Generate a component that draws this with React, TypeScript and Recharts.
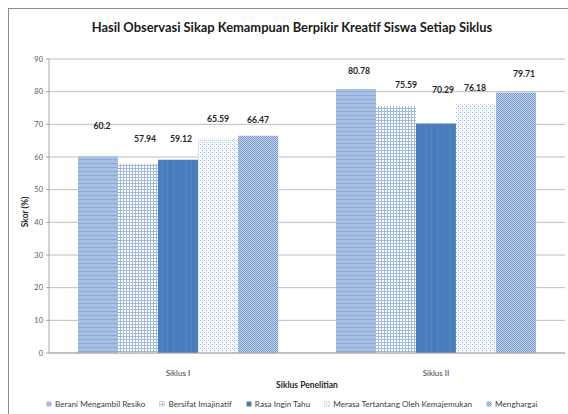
import { Bar, BarChart, CartesianGrid, LabelList, XAxis, YAxis } from "recharts";

// categories and series
const cycles = ["Siklus I", "Siklus II"];
const seriesNames = [
  "Berani Mengambil Resiko",
  "Bersifat Imajinatif",
  "Rasa Ingin Tahu",
  "Merasa Tertantang Oleh Kemajemukan",
  "Menghargai",
];
const berani = [60.2, 80.78];
const imajinatif = [57.94, 75.59];
const inginTahu = [59.12, 70.29];
const tertantang = [65.59, 76.18];
const menghargai = [66.47, 79.71];
const yTicks = [0, 10, 20, 30, 40, 50, 60, 70, 80, 90];

// hand-placed label nudges in the original (px above bar top, px right of bar centre)
const labelLift = [
  [31, 19],
  [25, 22],
  [21, 34],
  [20, 17],
  [16, 19],
];
const labelShift = [
  [4, 3],
  [7, 10],
  [3, 7],
  [0, -1],
  [0, 8],
];

const keys = ["s0", "s1", "s2", "s3", "s4"];
const patternIds = ["pBerani", "pImaj", "pRasa", "pMerasa", "pHargai"];
const seriesValues = [berani, imajinatif, inginTahu, tertantang, menghargai];

const data = cycles.map((name, i) => {
  const row: Record<string, string | number> = { name };
  seriesValues.forEach((vals, s) => {
    row[keys[s]] = vals[i];
  });
  return row;
});

const FONT = "Lato, 'Open Sans', sans-serif";

function makeLabel(s: number) {
  return (props: any) => {
    const { x, y, width, value, index } = props;
    const cx = Number(x) + Number(width) / 2 + labelShift[s][index];
    const cy = Number(y) - labelLift[s][index];
    return (
      <text
        x={cx}
        y={cy}
        textAnchor="middle"
        dominantBaseline="central"
        fontFamily={FONT}
        fontWeight={700}
        fontSize={8.7}
        fill="#1f1f1f"
      >
        {value}
      </text>
    );
  };
}

function Patterns() {
  return (
    <defs>
      <pattern id="pBerani" width="4" height="4" patternUnits="userSpaceOnUse">
        <rect width="4" height="4" fill="#a8c0e3" />
        <rect y="3" width="4" height="1" fill="#8eabd7" />
      </pattern>
      <pattern id="pImaj" width="3" height="3" patternUnits="userSpaceOnUse">
        <rect width="3" height="3" fill="#ffffff" />
        <rect width="3" height="1" fill="#a3badf" />
        <rect width="1" height="3" fill="#a3badf" />
      </pattern>
      <pattern id="pRasa" width="6" height="6" patternUnits="userSpaceOnUse">
        <rect width="6" height="6" fill="#4a7dbc" />
        <rect x="5" width="1" height="6" fill="#5585c1" />
      </pattern>
      <pattern id="pMerasa" width="4" height="4" patternUnits="userSpaceOnUse">
        <rect width="4" height="4" fill="#f4f7fc" />
        <rect width="1" height="1" fill="#a9c0e4" />
        <rect x="2" y="2" width="1" height="1" fill="#a9c0e4" />
        <rect x="2" width="1" height="1" fill="#d3def1" />
      </pattern>
      <pattern id="pHargai" width="2" height="2" patternUnits="userSpaceOnUse">
        <rect width="2" height="2" fill="#c3d3ed" />
        <rect width="1" height="1" fill="#7b9bcf" />
        <rect x="1" y="1" width="1" height="1" fill="#7b9bcf" />
      </pattern>
    </defs>
  );
}

export default function App() {
  return (
    <div
      style={{
        position: "absolute",
        left: 0,
        top: 0,
        width: 568,
        height: 414,
        overflow: "hidden",
        background: "#ffffff",
        fontFamily: FONT,
      }}
    >
      <div
        style={{
          position: "absolute",
          left: 8,
          top: 8,
          width: 600,
          height: 450,
          borderLeft: "1px solid #8c8c8c",
          borderTop: "1px solid #8c8c8c",
        }}
      />
      <div
        style={{
          position: "absolute",
          left: 0,
          top: 19,
          width: 584,
          textAlign: "center",
          fontWeight: 700,
          fontSize: 12.9,
          color: "#1a1a1a",
          whiteSpace: "nowrap",
        }}
      >
        Hasil Observasi Sikap Kemampuan Berpikir Kreatif Siswa Setiap Siklus
      </div>
      <div style={{ position: "absolute", left: 0, top: 0 }}>
        <BarChart
          width={568}
          height={414}
          data={data}
          margin={{ top: 59, right: 3, bottom: 26, left: 0 }}
          barGap={0}
          barSize={40}
        >
          <Patterns />
          <CartesianGrid vertical={false} stroke="#bdbdbd" strokeWidth={1} />
          <XAxis
            dataKey="name"
            height={35}
            axisLine={{ stroke: "#a6a6a6" }}
            tickLine={false}
            tickMargin={11}
            tick={{ fontSize: 8, fill: "#404040", fontFamily: FONT }}
            label={{
              value: "Siklus Penelitian",
              position: "insideBottom",
              offset: 0,
              fontSize: 8.5,
              fontWeight: 700,
              fill: "#262626",
              fontFamily: FONT,
            }}
          />
          <YAxis
            width={49}
            domain={[0, 90]}
            ticks={yTicks}
            interval={0}
            axisLine={{ stroke: "#a6a6a6" }}
            tickLine={{ stroke: "#a6a6a6" }}
            tickSize={3}
            tickMargin={3}
            tick={{ fontSize: 7.5, fill: "#595959", fontFamily: FONT }}
            label={{
              value: "Skor (%)",
              angle: -90,
              position: "center",
              dx: 0,
              dy: 6,
              fontSize: 8.5,
              fontWeight: 700,
              fill: "#262626",
              fontFamily: FONT,
            }}
          />
          {keys.map((k, s) => (
            <Bar
              key={k}
              dataKey={k}
              name={seriesNames[s]}
              fill={`url(#${patternIds[s]})`}
              isAnimationActive={false}
            >
              <LabelList dataKey={k} content={makeLabel(s)} />
            </Bar>
          ))}
        </BarChart>
      </div>
      <div
        style={{
          position: "absolute",
          left: 46,
          top: 399,
          display: "flex",
          alignItems: "center",
          fontSize: 8.2,
          color: "#404040",
          whiteSpace: "nowrap",
        }}
      >
        {seriesNames.map((n, s) => (
          <div
            key={n}
            style={{ display: "flex", alignItems: "center", marginRight: 14 }}
          >
            <svg width={6} height={6} style={{ marginRight: 3 }}>
              <rect
                x={0.5}
                y={0.5}
                width={5}
                height={5}
                fill={`url(#${patternIds[s]})`}
                stroke={s === 1 || s === 3 ? "#c9d6ec" : "none"}
                strokeWidth={0.6}
              />
            </svg>
            <span>{n}</span>
          </div>
        ))}
      </div>
    </div>
  );
}
